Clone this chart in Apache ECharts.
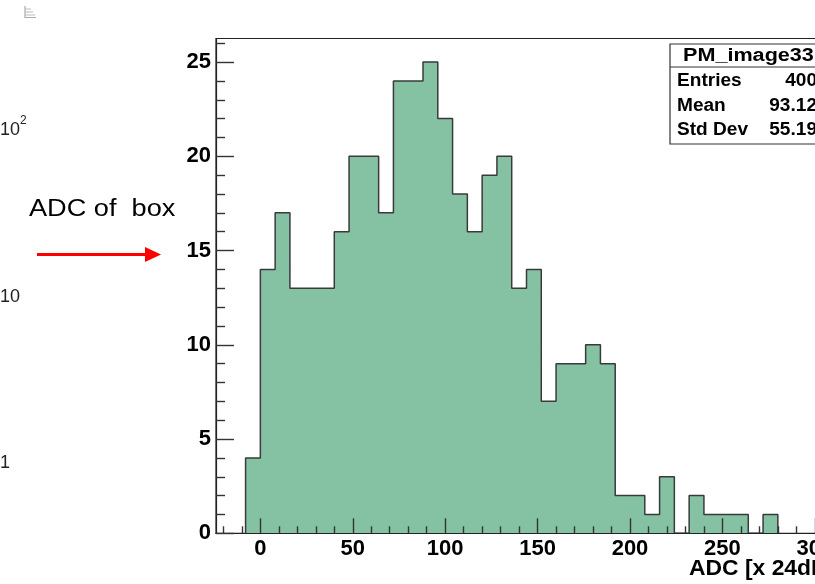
<!DOCTYPE html>
<html>
<head>
<meta charset="utf-8">
<script src="https://cdn.jsdelivr.net/npm/echarts@6/dist/echarts.min.js"></script>
<style>
html,body{margin:0;padding:0;background:#fff;overflow:hidden;width:815px;height:584px;}
#chart{width:860px;height:584px;}
</style>
</head>
<body>
<div id="chart"></div>
<script>
// Histogram bin edges (left edges + final right edge) and counts
const binEdges = [-8,0,8,16,24,32,40,48,56,64,72,80,88,96,104,112,120,128,136,144,152,160,168,176,184,192,200,208,216,224,232,240,248,256,264,272,280];
const binCounts = [4,14,17,13,13,13,16,20,20,17,24,24,25,22,18,16,19,20,13,14,7,9,9,10,9,2,2,1,3,0,2,1,1,1,0,1];
const xMajorTicks = [0,50,100,150,200,250,300];
const xMinorTicks = [-20,-10,10,20,30,40,60,70,80,90,110,120,130,140,160,170,180,190,210,220,230,240,260,270,280,290,310];
const yMajorTicks = [0,5,10,15,20,25];
const yMinorTicks = [1,2,3,4,6,7,8,9,11,12,13,14,16,17,18,19,21,22,23,24,26];
const histTitle = 'PM_image33';
const statNames = ['Entries','Mean','Std Dev'];
const statValues = ['400','93.12','55.19'];
const xTitle = 'ADC [x 24dB]';
const leftLogLabels = ['10', '10', '1'];

const pts = [[binEdges[0], 0]];
for (let i = 0; i < binCounts.length; i++) pts.push([binEdges[i], binCounts[i]]);
pts.push([binEdges[binEdges.length - 1], 0]);

const chart = echarts.init(document.getElementById('chart'), null, {renderer: 'canvas'});
const tickColor = '#333';
const labelFont = {fontFamily: 'Liberation Sans, Arial, Helvetica, sans-serif', fontWeight: 'bold', fontSize: 22, color: '#000'};

const statsGraphics = [];
statsGraphics.push({type: 'rect', shape: {x: 670, y: 44, width: 170, height: 100}, style: {fill: '#fff', stroke: '#333', lineWidth: 1.2}, z: 10});
statsGraphics.push({type: 'line', shape: {x1: 670, y1: 67, x2: 840, y2: 67}, style: {stroke: '#333', lineWidth: 1.2}, z: 10});
statsGraphics.push({type: 'text', x: 683, y: 56, scaleX: 1.2, style: {text: histTitle, fontFamily: 'Liberation Sans, Arial, sans-serif', fontWeight: 'bold', fontSize: 18, fill: '#000', textAlign: 'left', textVerticalAlign: 'middle'}, z: 11});
const rowY = [81, 106, 130];
statNames.forEach((n, i) => {
  statsGraphics.push({type: 'text', x: 677, y: rowY[i], scaleX: 1.06, style: {text: n, fontFamily: 'Liberation Sans, Arial, sans-serif', fontWeight: 'bold', fontSize: 18, fill: '#000', textAlign: 'left', textVerticalAlign: 'middle'}, z: 11});
  statsGraphics.push({type: 'text', x: 817, y: rowY[i], scaleX: 1.06, style: {text: statValues[i], fontFamily: 'Liberation Sans, Arial, sans-serif', fontWeight: 'bold', fontSize: 18, fill: '#000', textAlign: 'right', textVerticalAlign: 'middle'}, z: 11});
});

const leftGraphics = [
  // small icon top-left
  {type: 'line', shape: {x1: 25, y1: 6, x2: 25, y2: 18}, style: {stroke: '#999', lineWidth: 1}},
  {type: 'line', shape: {x1: 25, y1: 9, x2: 31, y2: 9}, style: {stroke: '#bbb', lineWidth: 1}},
  {type: 'line', shape: {x1: 25, y1: 12, x2: 33, y2: 12}, style: {stroke: '#bbb', lineWidth: 1}},
  {type: 'line', shape: {x1: 25, y1: 15, x2: 35, y2: 15}, style: {stroke: '#bbb', lineWidth: 1}},
  {type: 'line', shape: {x1: 25, y1: 17.5, x2: 36, y2: 17.5}, style: {stroke: '#aaa', lineWidth: 1}},
  {type: 'text', x: 0, y: 130, style: {text: leftLogLabels[0], fontFamily: 'Liberation Sans, Arial, sans-serif', fontSize: 18, fill: '#222', textAlign: 'left', textVerticalAlign: 'middle'}},
  {type: 'text', x: 20, y: 121, style: {text: '2', fontFamily: 'Liberation Sans, Arial, sans-serif', fontSize: 12, fill: '#222', textAlign: 'left', textVerticalAlign: 'middle'}},
  {type: 'text', x: 0, y: 297, style: {text: leftLogLabels[1], fontFamily: 'Liberation Sans, Arial, sans-serif', fontSize: 18, fill: '#222', textAlign: 'left', textVerticalAlign: 'middle'}},
  {type: 'text', x: 0, y: 463, style: {text: leftLogLabels[2], fontFamily: 'Liberation Sans, Arial, sans-serif', fontSize: 18, fill: '#222', textAlign: 'left', textVerticalAlign: 'middle'}},
  {type: 'text', x: 29, y: 210, scaleX: 1.18, style: {text: 'ADC of  box', fontFamily: 'Liberation Sans, Arial, sans-serif', fontSize: 23, fill: '#000', textAlign: 'left', textVerticalAlign: 'middle'}},
  {type: 'line', shape: {x1: 37, y1: 254.5, x2: 147, y2: 254.5}, style: {stroke: '#f00', lineWidth: 3}},
  {type: 'polygon', shape: {points: [[145, 247], [161, 254.5], [145, 262]]}, style: {fill: '#f00'}},
  {type: 'text', x: 689, y: 569, scaleX: 1.04, style: {text: xTitle, fontFamily: 'Liberation Sans, Arial, sans-serif', fontWeight: 'bold', fontSize: 22, fill: '#000', textAlign: 'left', textVerticalAlign: 'middle'}}
];

const option = {
  animation: false,
  backgroundColor: '#fff',
  grid: {left: 216, top: 38.5, width: 621, height: 494.8, show: true, borderColor: '#222', borderWidth: 1.2, backgroundColor: 'transparent', containLabel: false, outerBoundsMode: 'none'},
  xAxis: [
    {type: 'value', min: -24, max: 312, position: 'bottom', z: 10,
     axisLine: {show: true, onZero: false, lineStyle: {color: '#222', width: 1.2}},
     axisTick: {show: true, inside: true, length: 15, customValues: xMajorTicks, lineStyle: {color: tickColor, width: 1.4}},
     axisLabel: Object.assign({show: true, customValues: xMajorTicks, margin: 5}, labelFont),
     splitLine: {show: false}},
    {type: 'value', min: -24, max: 312, position: 'bottom', offset: 0, z: 10,
     axisLine: {show: false, onZero: false},
     axisTick: {show: true, inside: true, length: 7, customValues: xMinorTicks, lineStyle: {color: tickColor, width: 1.4}},
     axisLabel: {show: false},
     splitLine: {show: false}}
  ],
  yAxis: [
    {type: 'value', min: 0, max: 26.25, position: 'left', z: 10,
     axisLine: {show: true, onZero: false, lineStyle: {color: '#222', width: 1.2}},
     axisTick: {show: true, inside: true, length: 18, customValues: yMajorTicks, lineStyle: {color: tickColor, width: 1.4}},
     axisLabel: Object.assign({show: true, customValues: yMajorTicks, margin: 5}, labelFont),
     splitLine: {show: false}},
    {type: 'value', min: 0, max: 26.25, position: 'left', offset: 0, z: 10,
     axisLine: {show: false, onZero: false},
     axisTick: {show: true, inside: true, length: 9, customValues: yMinorTicks, lineStyle: {color: tickColor, width: 1.4}},
     axisLabel: {show: false},
     splitLine: {show: false}}
  ],
  series: [{
    type: 'line', xAxisIndex: 0, yAxisIndex: 0,
    data: pts, step: 'end', showSymbol: false, symbol: 'none',
    lineStyle: {color: '#3a3a3a', width: 1.5},
    areaStyle: {color: '#85c2a4', opacity: 1},
    z: 2
  }],
  graphic: leftGraphics.concat(statsGraphics)
};
chart.setOption(option);
</script>
</body>
</html>
